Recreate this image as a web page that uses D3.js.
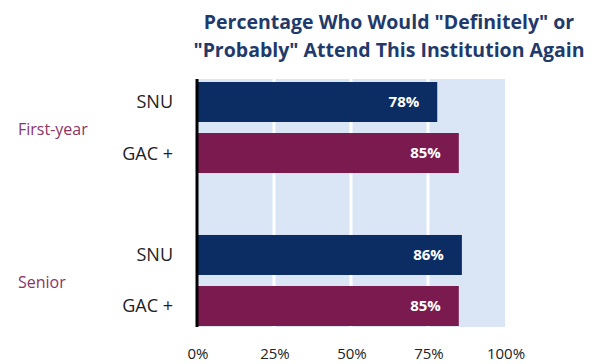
<!DOCTYPE html>
<html><head><meta charset="utf-8">
<script src="https://cdn.jsdelivr.net/npm/d3@7"></script>
<style>body{margin:0;background:#fff}svg{display:block}</style>
</head><body>
<svg id="c" width="613" height="364"></svg>
<script>
const groups = ["First-year", "Senior"];
const series = ["SNU", "GAC +"];
const values = [[78, 85], [86, 85]];
const ticks = [0, 25, 50, 75, 100];
const titleLines = ['Percentage Who Would "Definitely" or', '"Probably" Attend This Institution Again'];
const colors = ["#0b2d63", "#7a1a4f"];

const svg = d3.select("#c");
const x = d3.scaleLinear().domain([0, 100]).range([197, 505]);
const rows = [];
groups.forEach((g, gi) => series.forEach((s, si) => rows.push({g, s, gi, si, v: values[gi][si]})));
const yGroup = d3.scaleBand().domain(groups).range([82, 326]).paddingInner(0.405).paddingOuter(0);
const ySub = d3.scaleBand().domain(series).range([0, yGroup.bandwidth()]).paddingInner(0.216).paddingOuter(0);

// background
svg.append("rect").attr("x", x(0)).attr("y", 79).attr("width", x(100) - x(0)).attr("height", 248).attr("fill", "#dae5f6");
// grid
svg.selectAll("line.grid").data(ticks.filter(t => t > 0 && t < 100)).enter().append("line")
  .attr("x1", d => x(d)).attr("x2", d => x(d)).attr("y1", 79).attr("y2", 327)
  .attr("stroke", "#fff").attr("stroke-width", 3);

const yPos = d => yGroup(d.g) + ySub(d.s);
svg.selectAll("rect.bar").data(rows).enter().append("rect")
  .attr("x", x(0)).attr("y", yPos).attr("width", d => x(d.v) - x(0)).attr("height", ySub.bandwidth())
  .attr("fill", d => colors[d.si]);

svg.selectAll("text.val").data(rows).enter().append("text")
  .attr("x", d => x(d.v) - 18).attr("y", d => yPos(d) + ySub.bandwidth() / 2)
  .attr("dy", "0.36em").attr("text-anchor", "end")
  .attr("fill", "#fff").attr("font-weight", "bold").attr("font-size", 15)
  .attr("font-family", "Open Sans, sans-serif").text(d => d.v + "%");

// axis line
svg.append("line").attr("x1", x(0)).attr("x2", x(0)).attr("y1", 79).attr("y2", 327).attr("stroke", "#000").attr("stroke-width", 3);

// category labels
svg.selectAll("text.cat").data(rows).enter().append("text")
  .attr("x", 173).attr("y", d => yPos(d) + ySub.bandwidth() / 2)
  .attr("dy", "0.36em").attr("text-anchor", "end").attr("fill", "#222")
  .attr("font-size", 18).attr("font-family", "Open Sans, sans-serif").text(d => d.s);

svg.selectAll("text.grp").data(groups).enter().append("text")
  .attr("x", 18).attr("y", d => yGroup(d) + yGroup.bandwidth() / 2 + 2)
  .attr("dy", "0.36em").attr("fill", "#8a3468")
  .attr("font-size", 16).attr("font-family", "Open Sans, sans-serif").text(d => d);

// x ticks
svg.selectAll("text.tick").data(ticks).enter().append("text")
  .attr("x", d => x(d) + 1).attr("y", 354).attr("dy", "0.36em").attr("text-anchor", "middle")
  .attr("fill", "#222").attr("font-size", 15).attr("font-family", "Open Sans, sans-serif")
  .text(d => d + "%");

// title
svg.selectAll("text.title").data(titleLines).enter().append("text")
  .attr("x", 389).attr("y", (d, i) => 22 + i * 28).attr("dy", "0.36em").attr("text-anchor", "middle")
  .attr("fill", "#1f3a6b").attr("font-weight", "bold").attr("font-size", 19.5)
  .attr("font-family", "Open Sans, sans-serif").text(d => d);
</script>
</body></html>
